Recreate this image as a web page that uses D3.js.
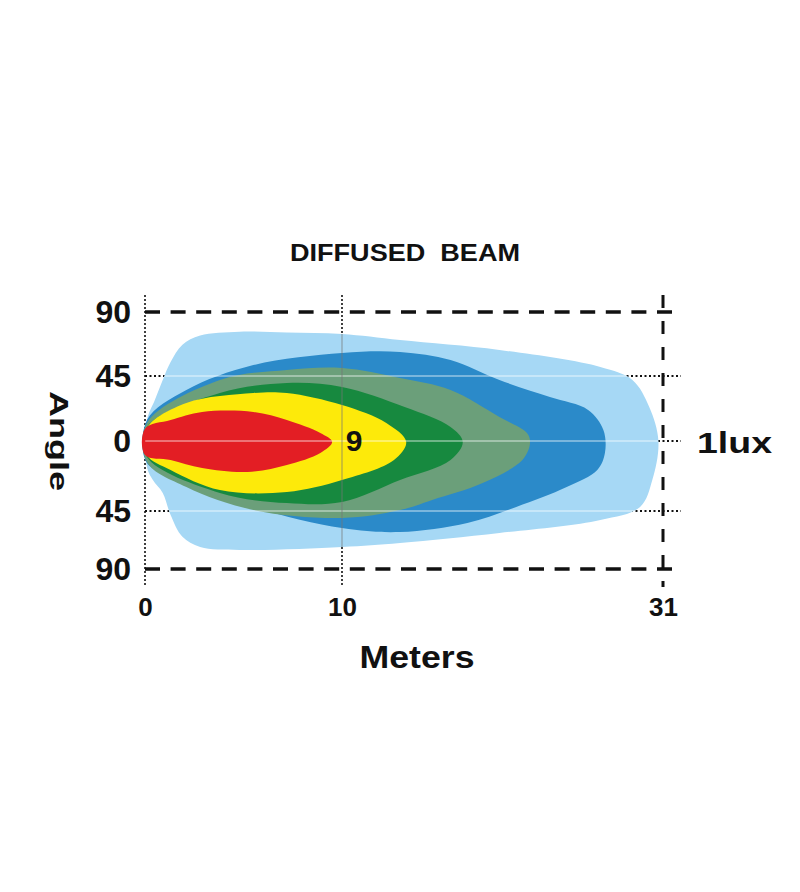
<!DOCTYPE html>
<html>
<head>
    <title>Diffused Beam</title>
    <script src="https://d3js.org/d3.v7.min.js"></script>
    <style>
        body { margin: 0; background-color: #ffffff; }
        text { font-family: "Liberation Sans", Arial, Helvetica, sans-serif; font-weight: bold; fill: #111; }
    </style>
</head>
<body>
<script>
    // Tick values
    const xTicks = [0, 10, 31];
    const yTicks = [90, 45, 0, -45, -90];
    const peakLux = 9;
    const edgeLabel = "1lux";

    // Isolux contours, [meters, angle]; outermost first
    const lightBlue = [[0.1, 14.5], [0.5, 28.4], [0.9, 42.2], [1.3, 54.8], [1.9, 67.0], [2.8, 73.5], [4.8, 76.2],
        [7.2, 75.5], [10, 74.5], [13.8, 70.3], [20.3, 63.3], [26.9, 51.3], [29.0, 42.2], [30.1, 23.5], [30.7, 0],
        [30.3, -25.1], [29.5, -42.4], [26.9, -52.0], [20.3, -62.1], [13.8, -69.8], [10, -72.9], [4.8, -75.2],
        [2.8, -72.9], [1.9, -65.0], [1.3, -48.1], [0.9, -33.4], [0.4, -25.1], [0.1, -16.7]];
    const darkBlue = [[0.1, 14.5], [2.1, 35.3], [5.5, 52.7], [10, 61.2], [13.8, 61.9], [17.1, 56.2], [20.3, 42.2],
        [23.6, 30.4], [26.1, 21.5], [27.1, 7.6], [27.2, -7.7], [26.7, -18.6], [24.7, -29.6], [21.4, -42.4],
        [18.2, -54.3], [13.8, -61.3], [10, -58.2], [5.5, -42.4], [2.1, -25.1], [0.1, -14.1]];
    const greyGreen = [[0.1, 12.5], [3.8, 42.2], [7.2, 49.2], [10, 50.6], [13.8, 43.6], [17.1, 35.3], [20.3, 16.6],
        [22.1, 5.5], [22.3, -1.3], [21.8, -12.2], [19.2, -27.0], [15.9, -37.9], [13.8, -44.4], [10, -50.4],
        [5.5, -44.4], [2.1, -29.6], [0.1, -13.5]];
    const green = [[0.1, 9.7], [3.8, 33.2], [7.2, 40.1], [10, 37.4], [14.1, 23.5], [17.1, 9.7], [17.9, -0.6],
        [17.1, -12.2], [13.8, -25.1], [10, -39.2], [7.2, -39.9], [3.8, -33.4], [0.1, -10.3]];
    const yellow = [[0.1, 9.0], [2.1, 26.3], [5.5, 33.2], [7.2, 33.2], [10, 24.9], [12.9, 12.5], [14.2, -0.6],
        [13.4, -12.2], [10, -25.1], [7.2, -32.8], [3.8, -31.5], [1.3, -18.6], [0.1, -9.0]];
    const red = [[0, 8.5], [1.3, 14.5], [2.9, 20.1], [5.5, 20.1], [7.2, 14.5], [8.9, 5.5], [9.5, -0.6],
        [8.9, -7.7], [7.2, -15.4], [5.2, -19.9], [2.9, -17.4], [1.3, -12.2], [0, -9.0]];

    const contours = [lightBlue, darkBlue, greyGreen, green, yellow, red];
    const colors = ["#a6d8f5", "#2b8ac9", "#6b9f7a", "#17893f", "#fdea0a", "#e31e24"];

    const svg = d3.select("body").append("svg")
        .attr("width", 800)
        .attr("height", 892);

    // Scales (the source chart spaces its ticks unevenly)
    const x = d3.scaleLinear().domain(xTicks).range([145, 342, 663]);
    const y = d3.scaleLinear().domain(yTicks).range([312, 376, 441, 511, 569]);

    const xLeft = x(0), xRight = x(31) + 18;
    const yTop = y(90) - 17, yBottom = y(-90) + 18;

    // Grid behind the beam
    const grid = svg.append("g");
    grid.selectAll(".hline")
        .data(yTicks)
        .enter().append("line")
        .attr("x1", xLeft).attr("x2", xRight)
        .attr("y1", d => y(d)).attr("y2", d => y(d))
        .attr("stroke", "#111")
        .attr("stroke-width", d => Math.abs(d) == 90 ? 3.5 : 2)
        .attr("stroke-dasharray", d => Math.abs(d) == 90 ? "15,10.6" : "2,2.5");
    grid.selectAll(".vline")
        .data(xTicks)
        .enter().append("line")
        .attr("x1", d => x(d)).attr("x2", d => x(d))
        .attr("y1", yTop).attr("y2", yBottom)
        .attr("stroke", "#111")
        .attr("stroke-width", d => d == 31 ? 3 : 1.6)
        .attr("stroke-dasharray", d => d == 31 ? "13,13" : "2,2");

    // Beam contours
    const line = d3.line()
        .x(d => x(d[0]))
        .y(d => y(d[1]))
        .curve(d3.curveCatmullRomClosed.alpha(0.5));

    svg.append("clipPath").attr("id", "beam")
        .append("path").attr("d", line(lightBlue));

    svg.selectAll(".contour")
        .data(contours)
        .enter().append("path")
        .attr("class", "contour")
        .attr("d", d => line(d))
        .attr("fill", (d, i) => colors[i]);

    // Faint grid lines showing through the beam
    const over = svg.append("g").attr("clip-path", "url(#beam)");
    over.selectAll("line.h")
        .data([45, 0, -45])
        .enter().append("line")
        .attr("x1", xLeft).attr("x2", xRight)
        .attr("y1", d => y(d)).attr("y2", d => y(d))
        .attr("stroke", "#ffffff")
        .attr("stroke-opacity", 0.5)
        .attr("stroke-width", 1.3);
    over.append("line")
        .attr("x1", x(10)).attr("x2", x(10))
        .attr("y1", yTop).attr("y2", yBottom)
        .attr("stroke", "#777")
        .attr("stroke-opacity", 0.6)
        .attr("stroke-width", 1.2);

    // Axes
    svg.append("g")
        .attr("transform", "translate(" + xLeft + ",0)")
        .call(d3.axisLeft(y).tickValues(yTicks).tickSize(0).tickPadding(14).tickFormat(d => Math.abs(d)))
        .call(g => g.select(".domain").remove())
        .selectAll("text")
        .style("font-family", "Liberation Sans, Arial, sans-serif")
        .style("font-weight", "bold")
        .style("font-size", "32px")
        .attr("fill", "#111");

    svg.append("g")
        .attr("transform", "translate(0," + y(-90) + ")")
        .call(d3.axisBottom(x).tickValues(xTicks).tickSize(0).tickPadding(29).tickFormat(d3.format("d")))
        .call(g => g.select(".domain").remove())
        .selectAll("text")
        .style("font-family", "Liberation Sans, Arial, sans-serif")
        .style("font-weight", "bold")
        .style("font-size", "26px")
        .attr("fill", "#111");

    // Titles and labels
    svg.append("text")
        .attr("x", 405).attr("y", 261)
        .attr("text-anchor", "middle")
        .style("font-size", "23px")
        .style("white-space", "pre")
        .attr("textLength", 230)
        .attr("lengthAdjust", "spacingAndGlyphs")
        .text("DIFFUSED  BEAM");

    svg.append("text")
        .attr("x", 417).attr("y", 668)
        .attr("text-anchor", "middle")
        .style("font-size", "31px")
        .attr("textLength", 115)
        .attr("lengthAdjust", "spacingAndGlyphs")
        .text("Meters");

    svg.append("text")
        .attr("transform", "translate(50," + y(0) + ") rotate(90)")
        .attr("text-anchor", "middle")
        .style("font-size", "26px")
        .attr("textLength", 100)
        .attr("lengthAdjust", "spacingAndGlyphs")
        .text("Angle");

    svg.append("text")
        .attr("x", 697).attr("y", y(0) + 12)
        .style("font-size", "29px")
        .attr("textLength", 75)
        .attr("lengthAdjust", "spacingAndGlyphs")
        .text(edgeLabel);

    svg.append("text")
        .attr("x", x(10) + 12).attr("y", y(0) + 10)
        .attr("text-anchor", "middle")
        .style("font-size", "30px")
        .text(peakLux);
</script>
</body>
</html>
